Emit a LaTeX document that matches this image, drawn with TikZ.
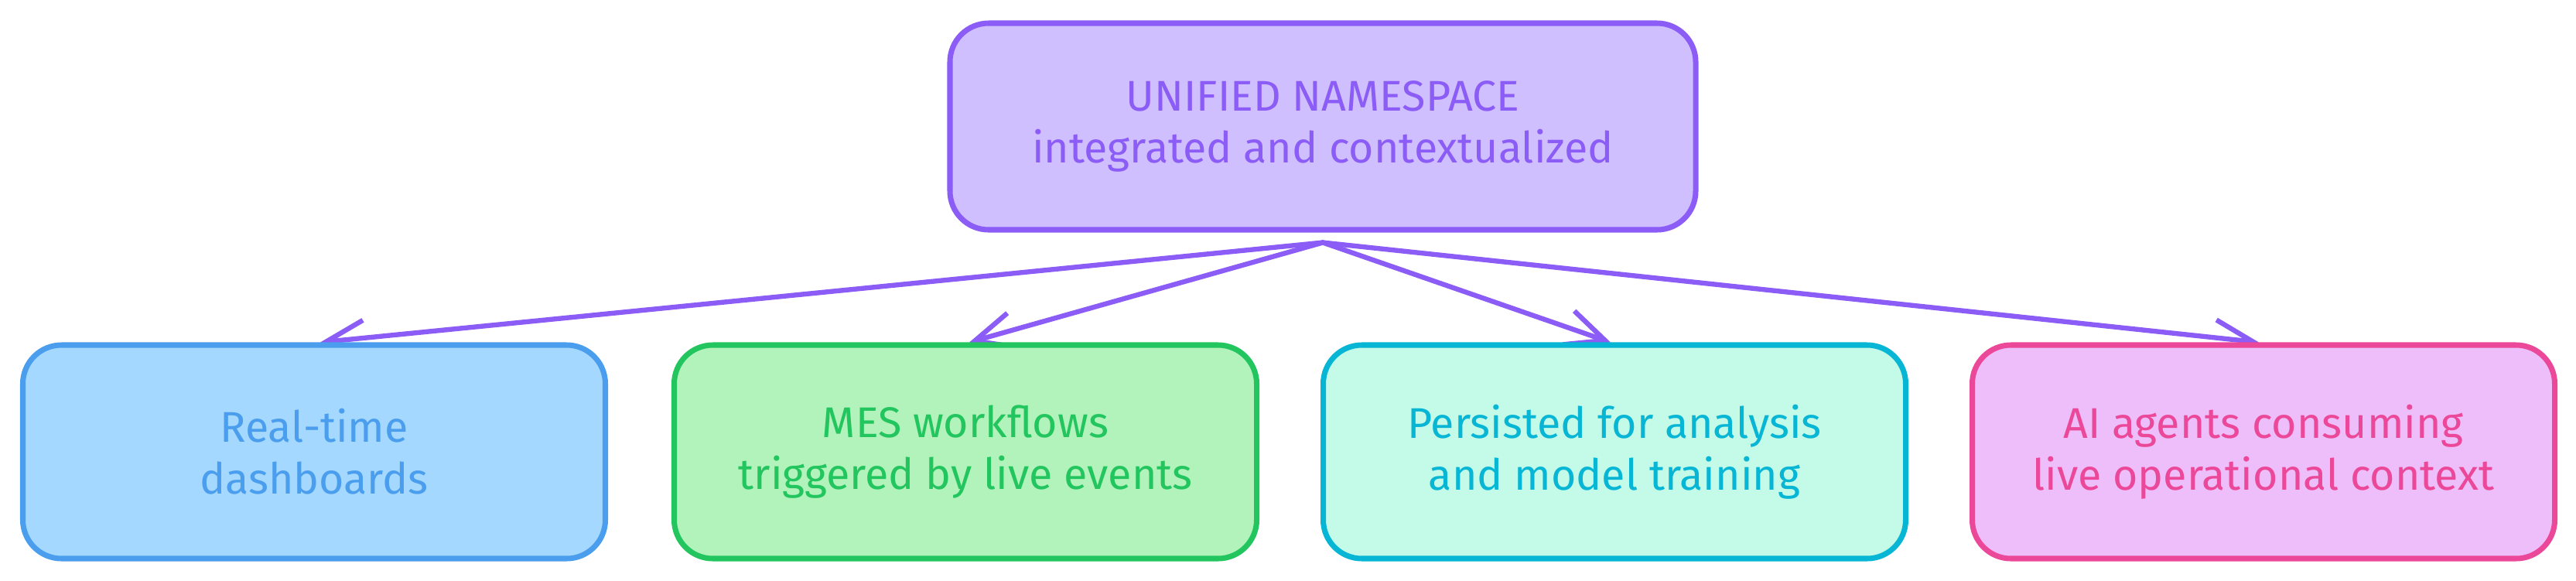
\documentclass[tikz,border=0pt]{standalone}
\usepackage{fontspec}
\setmainfont{Fira Sans}
\usetikzlibrary{arrows.meta}
\definecolor{pstroke}{HTML}{8B5CF6}
\definecolor{pfill}{HTML}{D0BFFF}
\definecolor{bstroke}{HTML}{4A9EED}
\definecolor{bfill}{HTML}{A5D8FF}
\definecolor{gstroke}{HTML}{22C55E}
\definecolor{gfill}{HTML}{B2F2BB}
\definecolor{cstroke}{HTML}{06B6D4}
\definecolor{cfill}{HTML}{C3FAE8}
\definecolor{kstroke}{HTML}{EC4899}
\definecolor{kfill}{HTML}{EEBEFA}
\pgfdeclarelayer{bg}
\pgfsetlayers{bg,main}
\tikzset{
  card/.style={draw, rounded corners=0.5cm, line width=2pt, align=center,
    inner sep=0pt, font=\fontsize{15.8}{19}\selectfont},
  topcard/.style={card, draw=pstroke, fill=pfill, text=pstroke,
    minimum width=9.64cm, minimum height=2.67cm},
  botcard/.style={card, minimum width=7.53cm, minimum height=2.76cm},
  link/.style={draw=pstroke, line width=1.8pt, line cap=round,
    -{Straight Barb[length=5mm,width=4.6mm,line width=1.8pt]}}
}
\begin{document}
\begin{tikzpicture}
\useasboundingbox (0,0) rectangle (33.3,-7.5);
\node[topcard] (top) at (17.10,-1.635) {UNIFIED NAMESPACE\\integrated and contextualized};
\node[botcard, draw=bstroke, fill=bfill, text=bstroke] (b1) at (4.06,-5.84) {Real-time\\dashboards};
\node[botcard, draw=gstroke, fill=gfill, text=gstroke] (b2) at (12.48,-5.84) {MES workflows\\triggered by live events};
\node[botcard, draw=cstroke, fill=cfill, text=cstroke] (b3) at (20.87,-5.84) {Persisted for analysis\\and model training};
\node[botcard, draw=kstroke, fill=kfill, text=kstroke] (b4) at (29.26,-5.84) {AI agents consuming\\live operational context};
\coordinate (src) at ([yshift=-0.13cm]top.south);
\begin{pgfonlayer}{bg}
\draw[link] (src) -- ([xshift=0.08cm]b1.north);
\draw[link] (src) -- ([xshift=0.05cm]b2.north);
\draw[link] (src) -- ([xshift=-0.05cm]b3.north);
\draw[link] (src) -- ([xshift=-0.06cm]b4.north);
\end{pgfonlayer}
\end{tikzpicture}
\end{document}
